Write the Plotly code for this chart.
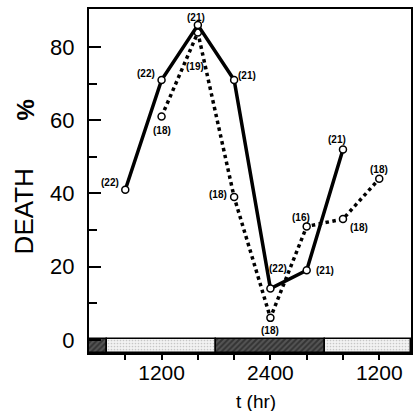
import plotly.graph_objects as go

# ---- data ----
t_solid = [8, 12, 16, 20, 24, 28, 32]
death_solid = [41, 71, 86, 71, 14, 19, 52]
n_solid = ["(22)", "(22)", "(21)", "(21)", "(22)", "(21)", "(21)"]

t_dotted = [12, 16, 20, 24, 28, 32, 36]
death_dotted = [61, 84, 39, 6, 31, 33, 44]
n_dotted = ["(18)", "(19)", "(18)", "(18)", "(16)", "(18)", "(18)"]

# light/dark periods (hours)
period_start = [4, 6, 18, 30]
period_end = [6, 18, 30, 39.5]
period_kind = ["dark", "light", "dark", "light"]

x_tickvals = [8, 12, 16, 20, 24, 28, 32, 36]
x_ticktext = ["", "1200", "", "", "2400", "", "", "1200"]
y_tickvals = [0, 20, 40, 60, 80]

# label offsets in pixels (dx, dy up)
off_solid = [(-15, 7), (-16, 7), (-2, 8), (13, 5), (8, 20), (18, 0), (-6, 10)]
off_dotted = [(0, -14), (-3, -34), (-16, 3), (0, -13), (-6, 9), (16, -8), (0, 9)]

FONT = "Liberation Sans"
BAR_BOTTOM, BAR_TOP = -3.6, 0.25

fig = go.Figure()

# light/dark bar
for s, e, k in zip(period_start, period_end, period_kind):
    if k == "dark":
        pat = dict(shape="/", fgcolor="#111111", bgcolor="#555555", size=4, solidity=0.5)
    else:
        pat = dict(shape=".", fgcolor="#9a9a9a", bgcolor="#f2f2f2", size=3, solidity=0.25)
    fig.add_trace(go.Bar(
        x=[(s + e) / 2], y=[BAR_TOP - BAR_BOTTOM], base=[BAR_BOTTOM], width=[e - s],
        marker=dict(color="#f2f2f2" if k == "light" else "#555555", pattern=pat,
                    line=dict(color="black", width=1.5)),
        showlegend=False, hoverinfo="skip"))

fig.add_trace(go.Scatter(
    x=t_dotted, y=death_dotted, mode="lines+markers",
    line=dict(color="black", width=3.5, dash="dot"),
    marker=dict(symbol="circle", size=7, color="white", line=dict(color="black", width=1.5)),
    showlegend=False))
fig.add_trace(go.Scatter(
    x=t_solid, y=death_solid, mode="lines+markers",
    line=dict(color="black", width=3.5),
    marker=dict(symbol="circle", size=7, color="white", line=dict(color="black", width=1.5)),
    showlegend=False))

for xs, ys, ns, offs in [(t_solid, death_solid, n_solid, off_solid),
                         (t_dotted, death_dotted, n_dotted, off_dotted)]:
    for xv, yv, nv, (dx, dy) in zip(xs, ys, ns, offs):
        fig.add_annotation(x=xv, y=yv, text=nv, showarrow=False,
                           xshift=dx, yshift=dy,
                           font=dict(family=FONT, size=10, color="black", weight="bold"))

fig.add_annotation(xref="paper", yref="paper", x=(24 - 89) / 324, y=(353 - 211) / 344,
                   xanchor="center", yanchor="middle",
                   text="DEATH", textangle=-90, showarrow=False,
                   font=dict(family=FONT, size=26, color="black"))
fig.add_annotation(xref="paper", yref="paper", x=(26 - 89) / 324, y=(353 - 110) / 344,
                   xanchor="center", yanchor="middle",
                   text="%", textangle=-90, showarrow=False,
                   font=dict(family=FONT, size=24, color="black", weight="bold"))
fig.add_annotation(xref="paper", yref="paper", x=(257 - 89) / 324, y=(353 - 401) / 344,
                   xanchor="center", yanchor="middle",
                   text="t (hr)", showarrow=False,
                   font=dict(family=FONT, size=19, color="black"))

fig.update_layout(
    width=418, height=411,
    margin=dict(l=89, r=5, t=9, b=58),
    paper_bgcolor="white", plot_bgcolor="white",
    bargap=0, barmode="overlay",
    xaxis=dict(range=[4, 39.5], tickvals=x_tickvals, ticktext=x_ticktext,
               ticks="outside", ticklen=5, tickwidth=1.5, tickcolor="black",
               showline=True, linecolor="black", linewidth=2, mirror=True,
               showgrid=False, zeroline=False, ticklabelstandoff=-5,
               tickfont=dict(family=FONT, size=21, color="black")),
    yaxis=dict(range=[BAR_BOTTOM, 90.4], tickvals=y_tickvals,
               ticks="inside", ticklen=12, tickwidth=1.5, tickcolor="black",
               minor=dict(tickvals=[10, 30, 50, 70], ticks="inside", ticklen=8,
                          tickwidth=1.5, tickcolor="black"),
               showline=True, linecolor="black", linewidth=2, mirror=True,
               showgrid=False, zeroline=False, ticklabelstandoff=8,
               tickfont=dict(family=FONT, size=22, color="black")),
)

fig.write_html("out.html", config={"displayModeBar": False},
               post_script="document.body.style.margin='0';")
